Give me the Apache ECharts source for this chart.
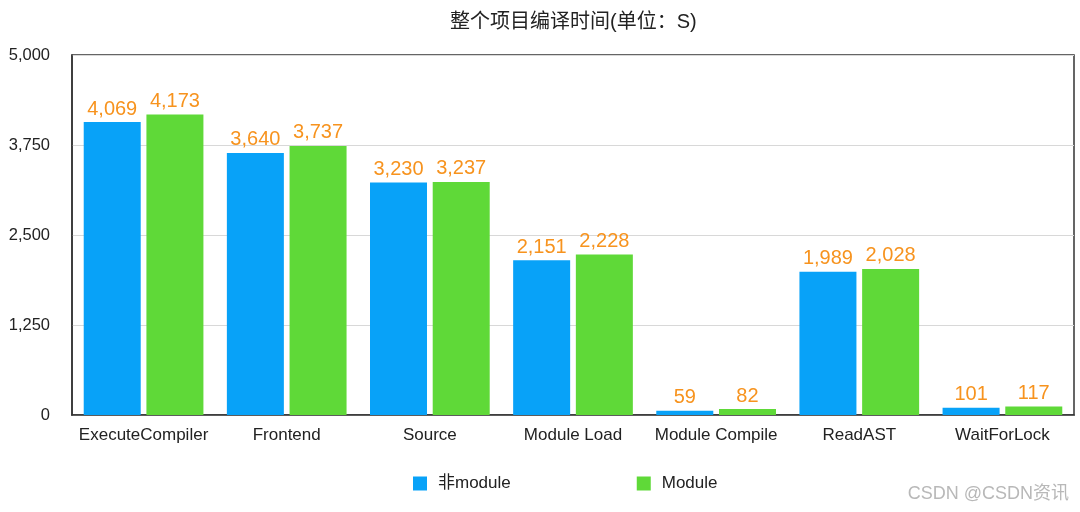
<!DOCTYPE html>
<html><head><meta charset="utf-8">
<script src="https://cdn.jsdelivr.net/npm/echarts@6/dist/echarts.min.js"></script>
<style>html,body{margin:0;padding:0;background:#fff}#c{width:1080px;height:512px}</style>
</head><body><div id="c"></div>
<script>
const categories = ['ExecuteCompiler','Frontend','Source','Module Load','Module Compile','ReadAST','WaitForLock'];
const nonModule = [4069, 3640, 3230, 2151, 59, 1989, 101];
const moduleVals = [4173, 3737, 3237, 2228, 82, 2028, 117];
const seriesNames = ['非module', 'Module'];
const titleText = '整个项目编译时间(单位：S)';
const watermark = 'CSDN @CSDN资讯';

const font = 'Helvetica, "Liberation Sans", Arial, "Noto Sans CJK SC", sans-serif';
const chart = echarts.init(document.getElementById('c'));
const label = {
  show: true, position: 'top', distance: 3, color: '#f7931e', fontSize: 20, fontFamily: font,
  formatter: p => p.value.toLocaleString('en-US')
};
chart.setOption({
  animation: false,
  backgroundColor: '#fff',
  title: { text: titleText, left: 445, top: 7, textStyle: { fontSize: 20, fontWeight: 'normal', color: '#222', fontFamily: font } },
  grid: { left: 72, right: 6, top: 55, bottom: 97, show: true, borderColor: '#333', borderWidth: 1.5, containLabel: false },
  legend: {
    bottom: 15, left: 408, itemWidth: 14, itemHeight: 14, itemGap: 126,
    icon: 'rect',
    textStyle: { fontSize: 17, color: '#222', fontFamily: font, padding: [0, 0, 0, 6] },
    data: seriesNames
  },
  xAxis: {
    type: 'category', data: categories,
    axisLine: { show: true, lineStyle: { color: '#333', width: 1.5 } },
    axisTick: { show: false },
    axisLabel: { interval: 0, color: '#222', fontSize: 17, margin: 12, fontFamily: font }
  },
  yAxis: {
    type: 'value', min: 0, max: 5000, interval: 1250,
    axisLine: { show: true, lineStyle: { color: '#333', width: 1.5 } },
    axisTick: { show: false },
    axisLabel: { color: '#222', fontSize: 16.5, margin: 22, fontFamily: font, formatter: v => v.toLocaleString('en-US') },
    splitLine: { lineStyle: { color: '#d8d8d8' } }
  },
  series: [
    { name: seriesNames[0], type: 'bar', data: nonModule, barWidth: 57, barGap: '10%', itemStyle: { color: '#08a2f8' }, label },
    { name: seriesNames[1], type: 'bar', data: moduleVals, barWidth: 57, itemStyle: { color: '#5fd938' }, label }
  ],
  graphic: [{
    type: 'text', right: 11, bottom: 9,
    style: { text: watermark, fontSize: 18, fill: '#b8b8b8', fontFamily: font }
  }]
});
</script></body></html>
